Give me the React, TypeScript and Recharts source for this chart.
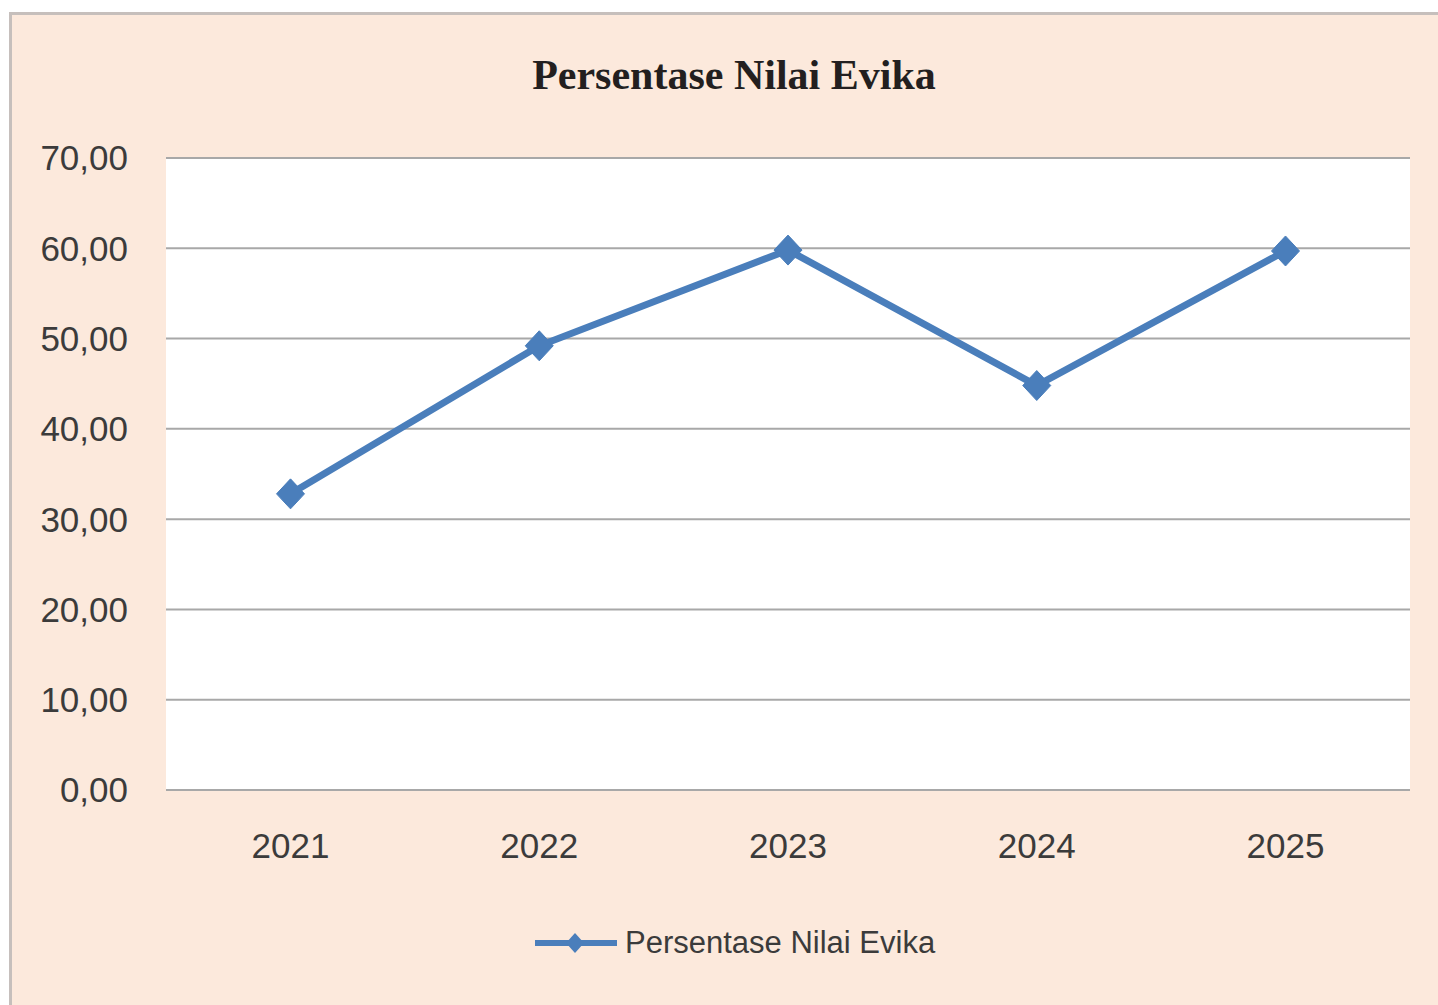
import React from 'react';
import { LineChart, Line, XAxis, YAxis, CartesianGrid } from 'recharts';

const years = ['2021', '2022', '2023', '2024', '2025'];
const nilaiEvika = [32.8, 49.2, 59.8, 44.8, 59.7];
const yTicks = [0, 10, 20, 30, 40, 50, 60, 70];
const seriesName = 'Persentase Nilai Evika';

const chartData = years.map((year, i) => ({ year, value: nilaiEvika[i] }));

const lineColor = '#4A7EBB';
const textColor = '#3b3b3b';
const gridColor = '#a8a8a8';
const tickFont = { fontFamily: 'Liberation Sans', fontSize: 35, fill: textColor };

// Diamond marker like the Excel one
const Diamond = (props: any) => {
  const { cx, cy } = props;
  if (cx == null || cy == null) return null;
  const w = 14;
  const h = 15;
  return (
    <polygon
      points={`${cx},${cy - h} ${cx + w},${cy} ${cx},${cy + h} ${cx - w},${cy}`}
      fill={lineColor}
      stroke={lineColor}
      strokeWidth={1}
    />
  );
};

const formatTick = (v: number) => v.toFixed(2).replace('.', ',');

export default function App() {
  return (
    <div
      style={{
        position: 'absolute',
        left: 0,
        top: 0,
        width: 1438,
        height: 1005,
        overflow: 'hidden',
        background: '#ffffff',
      }}
    >
      {/* outer chart frame */}
      <div
        style={{
          position: 'absolute',
          left: 9,
          top: 12,
          width: 1460,
          height: 1010,
          border: '3px solid #c6bfbc',
          background: '#FCE9DC',
        }}
      />
      <div
        style={{
          position: 'absolute',
          left: 0,
          top: 51,
          width: 1468,
          textAlign: 'center',
          fontFamily: 'Liberation Serif',
          fontWeight: 'bold',
          fontSize: 42,
          color: '#231f1f',
        }}
      >
        {seriesName}
      </div>
      <div style={{ position: 'absolute', left: 0, top: 0 }}>
        <LineChart
          width={1438}
          height={1005}
          data={chartData}
          margin={{ top: 158, right: 28, left: 0, bottom: 115 }}
        >
          <CartesianGrid
            vertical={false}
            stroke={gridColor}
            strokeWidth={2}
            fill="#ffffff"
            fillOpacity={1}
          />
          <XAxis
            dataKey="year"
            height={100}
            padding={{ left: 124.5, right: 124.5 }}
            axisLine={{ stroke: gridColor, strokeWidth: 2 }}
            tickLine={false}
            tickSize={0}
            tickMargin={43}
            tick={tickFont}
          />
          <YAxis
            width={166}
            domain={[0, 70]}
            ticks={yTicks}
            tickFormatter={formatTick}
            axisLine={false}
            tickLine={false}
            tickSize={0}
            tickMargin={38}
            tick={tickFont}
          />
          <Line
            type="linear"
            dataKey="value"
            name={seriesName}
            stroke={lineColor}
            strokeWidth={7}
            dot={<Diamond />}
            activeDot={false}
            isAnimationActive={false}
          />
        </LineChart>
      </div>
      {/* legend */}
      <div
        style={{
          position: 'absolute',
          left: 535,
          top: 922,
          display: 'flex',
          alignItems: 'center',
          height: 42,
        }}
      >
        <svg width={82} height={30}>
          <line x1={0} y1={15} x2={82} y2={15} stroke={lineColor} strokeWidth={6} />
          <polygon points="40,5 49,15 40,25 31,15" fill={lineColor} />
        </svg>
        <span
          style={{
            marginLeft: 8,
            fontFamily: 'Liberation Sans',
            fontSize: 31,
            color: textColor,
          }}
        >
          {seriesName}
        </span>
      </div>
    </div>
  );
}
